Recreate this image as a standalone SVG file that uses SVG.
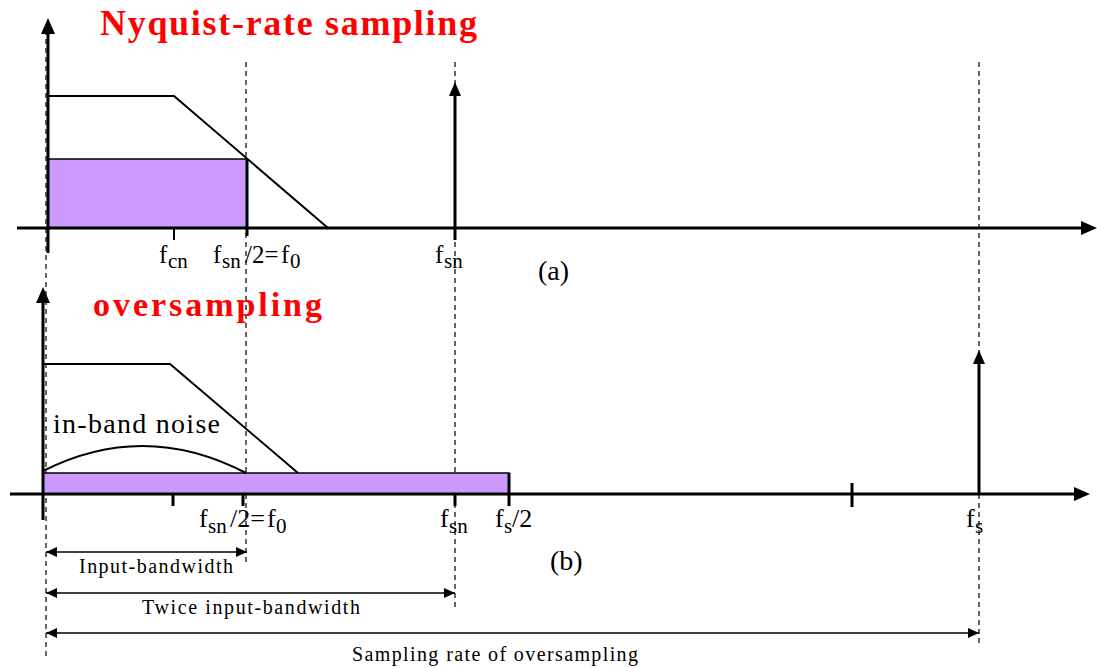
<svg xmlns="http://www.w3.org/2000/svg" width="1097" height="668" viewBox="0 0 1097 668">
<style>
.bg{fill:#fff}
.axis{stroke:#000;stroke-width:3;fill:none}
.curve{stroke:#000;stroke-width:2;fill:none}
.tick{stroke:#000;stroke-width:3}
.dash{stroke:#000;stroke-width:1.2;stroke-dasharray:5,4;fill:none}
.band{fill:#cc99ff;stroke:#000;stroke-width:1.5}
.dim{stroke:#000;stroke-width:1.5;fill:none}
.title{font-family:"Liberation Serif",serif;font-weight:bold;fill:#ff0000}
.lbl{font-family:"Liberation Serif",serif;fill:#000}
</style>
<defs>
<marker id="axArrow" markerUnits="userSpaceOnUse" markerWidth="17" markerHeight="14" refX="0" refY="7" orient="auto"><path d="M0,0 L16,7 L0,14 z" fill="#000"/></marker>
<marker id="impArrow" markerUnits="userSpaceOnUse" markerWidth="15" markerHeight="12" refX="0" refY="6" orient="auto"><path d="M0,0 L14,6 L0,12 z" fill="#000"/></marker>
<marker id="dimArrow" markerUnits="userSpaceOnUse" markerWidth="12" markerHeight="10" refX="11" refY="5" orient="auto-start-reverse"><path d="M0,0 L11,5 L0,10 z" fill="#000"/></marker>
</defs>
<rect class="bg" x="0" y="0" width="1097" height="668"/>

<g id="guides">
<line class="dash" x1="46" y1="30" x2="46" y2="660"/>
<line class="dash" x1="246" y1="62" x2="246" y2="563"/>
<line class="dash" x1="455" y1="62" x2="455" y2="608"/>
<line class="dash" x1="979" y1="62" x2="979" y2="645"/>
</g>

<g id="panel-a">
<rect class="band" x="48" y="159" width="199" height="69"/>
<line class="tick" x1="247" y1="159" x2="247" y2="236"/>
<polyline class="curve" points="48,96 174,96 328,228"/>
<line class="axis" x1="48" y1="253" x2="48" y2="34" marker-end="url(#axArrow)"/>
<line class="axis" x1="17" y1="228" x2="1081" y2="228" marker-end="url(#axArrow)"/>
<line class="tick" x1="174" y1="228" x2="174" y2="240" style="stroke-width:2"/>
<line class="tick" x1="455" y1="240" x2="455" y2="96" marker-end="url(#impArrow)"/>
<text class="title" x="100" y="35" font-size="36" textLength="377" lengthAdjust="spacing">Nyquist-rate sampling</text>
<text class="lbl" font-size="25"><tspan x="159" y="263">f</tspan><tspan x="168" y="268" font-size="21">cn</tspan></text>
<text class="lbl" font-size="25"><tspan x="213" y="263">f</tspan><tspan x="222" y="268" font-size="21">sn</tspan><tspan x="245" y="263">/2=</tspan><tspan x="281" y="263">f</tspan><tspan x="290" y="268" font-size="21">0</tspan></text>
<text class="lbl" font-size="25"><tspan x="435" y="263">f</tspan><tspan x="444" y="268" font-size="21">sn</tspan></text>
<text class="lbl" x="538" y="280" font-size="28">(a)</text>
</g>

<g id="panel-b">
<rect class="band" x="43" y="473" width="466" height="21"/>
<line class="tick" x1="509" y1="473" x2="509" y2="506"/>
<polyline class="curve" points="43,364 170,364 298,473"/>
<path class="curve" d="M43,471 Q144,420 246,473"/>
<line class="axis" x1="43" y1="520" x2="43" y2="303" marker-end="url(#axArrow)"/>
<line class="axis" x1="10" y1="494" x2="1074" y2="494" marker-end="url(#axArrow)"/>
<line class="tick" x1="173" y1="494" x2="173" y2="506"/>
<line class="tick" x1="243" y1="494" x2="243" y2="506"/>
<line class="tick" x1="455" y1="494" x2="455" y2="506"/>
<line class="tick" x1="852" y1="483" x2="852" y2="507"/>
<line class="tick" x1="979" y1="494" x2="979" y2="364" marker-end="url(#impArrow)"/>
<text class="title" x="93" y="316" font-size="34" textLength="229" lengthAdjust="spacing">oversampling</text>
<text class="lbl" x="53" y="433" font-size="28" textLength="167" lengthAdjust="spacing">in-band noise</text>
<text class="lbl" font-size="26"><tspan x="199" y="527">f</tspan><tspan x="208" y="533" font-size="21">sn</tspan><tspan x="230" y="527">/2=</tspan><tspan x="267" y="527">f</tspan><tspan x="276" y="533" font-size="21">0</tspan></text>
<text class="lbl" font-size="26"><tspan x="440" y="527">f</tspan><tspan x="449" y="533" font-size="21">sn</tspan></text>
<text class="lbl" font-size="26"><tspan x="495" y="527">f</tspan><tspan x="504" y="533" font-size="21">s</tspan><tspan x="512" y="527">/2</tspan></text>
<text class="lbl" font-size="26"><tspan x="966" y="527">f</tspan><tspan x="975" y="533" font-size="21">s</tspan></text>
<text class="lbl" x="550" y="570" font-size="28">(b)</text>
</g>

<g id="connectors">
<line class="dim" x1="46" y1="552" x2="247" y2="552" marker-start="url(#dimArrow)" marker-end="url(#dimArrow)"/>
<line class="dim" x1="46" y1="593" x2="455" y2="593" marker-start="url(#dimArrow)" marker-end="url(#dimArrow)"/>
<line class="dim" x1="46" y1="633" x2="979" y2="633" marker-start="url(#dimArrow)" marker-end="url(#dimArrow)"/>
</g>

<g id="dim-labels">
<text class="lbl" x="79" y="573" font-size="20" textLength="154" lengthAdjust="spacing">Input-bandwidth</text>
<text class="lbl" x="142" y="614" font-size="20" textLength="218" lengthAdjust="spacing">Twice input-bandwidth</text>
<text class="lbl" x="352" y="661" font-size="20" textLength="286" lengthAdjust="spacing">Sampling rate of oversampling</text>
</g>
</svg>
